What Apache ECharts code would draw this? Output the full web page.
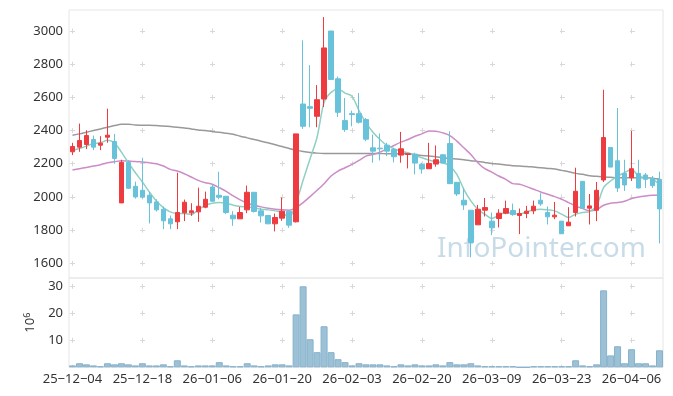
<!DOCTYPE html>
<html><head><meta charset="utf-8">
<script src="https://cdn.jsdelivr.net/npm/echarts@6/dist/echarts.min.js"></script>
<style>html,body{margin:0;padding:0;background:#fff}#c{width:673px;height:396px}</style>
</head><body><div id="c"></div>
<script>
const dates = ['25-12-04','25-12-05','25-12-08','25-12-09','25-12-10','25-12-11','25-12-12','25-12-15','25-12-16','25-12-17',
'25-12-18','25-12-19','25-12-22','25-12-23','25-12-24','25-12-26','25-12-29','25-12-30','26-01-02','26-01-05',
'26-01-06','26-01-07','26-01-08','26-01-09','26-01-12','26-01-13','26-01-14','26-01-15','26-01-16','26-01-19',
'26-01-20','26-01-21','26-01-22','26-01-23','26-01-26','26-01-27','26-01-28','26-01-29','26-01-30','26-02-02',
'26-02-03','26-02-04','26-02-05','26-02-06','26-02-09','26-02-10','26-02-11','26-02-12','26-02-13','26-02-19',
'26-02-20','26-02-23','26-02-24','26-02-25','26-02-26','26-02-27','26-03-03','26-03-04','26-03-05','26-03-06',
'26-03-09','26-03-10','26-03-11','26-03-12','26-03-13','26-03-16','26-03-17','26-03-18','26-03-19','26-03-20',
'26-03-23','26-03-24','26-03-25','26-03-26','26-03-27','26-03-30','26-03-31','26-04-01','26-04-02','26-04-03',
'26-04-06','26-04-07','26-04-08','26-04-09','26-04-10'];

const openV = [2272,2300,2316,2346,2312,2360,2334,1964,2208,2064,
 2040,2010,1970,1926,1868,1850,1904,1904,1910,1938,
 2060,2010,2004,1890,1868,1922,2028,1916,1888,1838,
 1872,1914,1850,2560,2544,2486,2590,3000,2712,2460,
 2502,2502,2466,2296,2294,2312,2286,2252,2256,2258,
 2196,2170,2198,2254,2322,2088,1980,1920,1832,1920,
 1854,1870,1902,1918,1888,1900,1916,1980,1906,1880,
 1854,1826,1906,2094,1932,1920,2102,2298,2218,2142,
 2116,2142,2132,2112,2106];
const closeV = [2304,2340,2370,2300,2324,2372,2232,2208,2052,2000,
 2000,1964,1922,1856,1838,1906,1968,1916,1944,1986,
 1974,1998,1906,1868,1906,2028,1912,1886,1838,1876,
 1914,1830,2380,2426,2534,2586,2898,2708,2510,2406,
 2496,2450,2348,2276,2290,2276,2242,2290,2260,2204,
 2168,2202,2224,2204,2080,2018,1952,1726,1926,1936,
 1814,1902,1930,1894,1900,1914,1944,1958,1880,1890,
 1778,1848,2034,1932,1946,2040,2358,2180,2054,2072,
 2170,2054,2106,2068,1928];
const lowV = [2252,2272,2288,2282,2282,2326,2200,1964,2048,1990,
 1990,1840,1912,1806,1806,1806,1854,1886,1850,1932,
 1970,1986,1896,1826,1868,1902,1906,1846,1836,1792,
 1856,1814,1846,2410,2420,2420,2542,2708,2482,2392,
 2426,2442,2336,2206,2220,2246,2208,2206,2172,2136,
 2140,2170,2182,2204,2080,2006,1922,1636,1832,1882,
 1770,1816,1896,1886,1776,1872,1896,1946,1834,1866,
 1778,1826,1882,1932,1834,1854,2090,2180,2030,2036,
 2096,2050,2054,2054,1720];
const highV = [2326,2442,2402,2370,2366,2532,2380,2224,2220,2092,
 2236,2030,1986,1942,1888,2146,1984,1962,2056,2032,
 2074,2152,2004,1914,1940,2068,2028,1934,1892,1900,
 1996,1914,2380,2944,2794,2674,3084,3000,2726,2596,
 2520,2626,2476,2376,2382,2326,2296,2392,2262,2266,
 2206,2326,2310,2258,2396,2088,2054,1920,1952,1994,
 1906,1926,1978,1960,1930,1946,1978,2022,1942,1970,
 1854,1938,2176,2094,2018,2090,2646,2298,2536,2224,
 2398,2224,2144,2126,2152];
const volume = [0.7,1.5,1.1,0.7,0.4,1.5,1.1,1.5,1.1,0.7,
 1.5,0.7,0.7,1.1,0.4,2.6,0.7,0.4,0.7,0.7,
 0.7,1.9,0.7,0.4,0.4,1.5,0.7,0.4,0.7,1.1,
 1.1,0.7,19.6,30.0,10.4,5.6,15.2,5.6,3.0,1.9,
 0.7,1.5,1.1,1.1,1.1,0.7,0.4,1.1,0.7,1.1,
 0.7,0.7,1.1,0.7,1.9,1.1,1.1,1.5,0.7,0.4,
 0.4,0.4,0.4,0.4,0,0,0.4,0.4,0.4,0.4,
 0.4,0.4,2.6,0.7,0.4,1.1,28.5,4.4,7.8,1.5,
 6.7,1.5,1.5,0.7,6.3];
const ma5 = [2280,2292,2306,2322,2326,2342,2326,2270,2206,2146,
 2090,2030,1976,1936,1910,1900,1900,1894,1922,1950,
 1962,1966,1962,1950,1942,1940,1934,1926,1922,1916,
 1906,1876,1966,2100,2230,2360,2570,2630,2650,2626,
 2606,2520,2446,2390,2346,2310,2290,2276,2266,2250,
 2236,2222,2212,2206,2186,2136,2046,1976,1926,1896,
 1870,1890,1906,1902,1896,1910,1922,1926,1922,1916,
 1896,1876,1896,1906,1912,1946,2056,2096,2126,2146,
 2166,2126,2116,2106,2076];
const ma20 = [2162,2170,2178,2186,2194,2206,2212,2218,2216,2214,
 2210,2206,2200,2186,2166,2156,2140,2120,2100,2086,
 2076,2056,2034,2006,1982,1962,1950,1940,1932,1926,
 1922,1920,1936,1966,2002,2040,2080,2126,2156,2176,
 2196,2220,2246,2256,2270,2290,2310,2330,2346,2366,
 2380,2398,2396,2386,2370,2336,2296,2256,2206,2170,
 2150,2126,2106,2080,2076,2062,2046,2030,2016,2002,
 1986,1966,1946,1930,1916,1922,1950,1962,1966,1974,
 1990,2000,2006,2010,2012];
const maLong = [2372,2380,2390,2400,2410,2420,2430,2438,2438,2434,
 2432,2432,2430,2428,2424,2420,2416,2410,2404,2400,
 2394,2390,2384,2378,2366,2356,2346,2336,2326,2314,
 2304,2292,2282,2274,2268,2264,2262,2262,2262,2262,
 2262,2262,2262,2262,2262,2260,2260,2260,2260,2254,
 2250,2246,2242,2236,2232,2228,2224,2218,2214,2208,
 2202,2198,2192,2188,2186,2184,2180,2176,2172,2168,
 2160,2152,2142,2136,2128,2124,2120,2118,2116,2116,
 2116,2116,2116,2112,2108];
const priceTicks = [1600,1800,2000,2200,2400,2600,2800,3000];
const volTicks = [10,20,30];

const FONT = 'Noto Sans';
const crossColor = '#d8d8d8';
const chart = echarts.init(document.getElementById('c'), null, {renderer:'canvas'});
const candleData = dates.map((d,i)=>[openV[i], closeV[i], lowV[i], highV[i]]);
const plain = v => String(v);
const option = {
  animation: false,
  backgroundColor: '#fff',
  textStyle: {fontFamily: FONT},
  graphic: [{
    type: 'text', left: 437, top: 235, z: 1, silent: true,
    style: {text: 'InfoPointer.com', fontSize: 28, fontFamily: FONT, fill: 'rgba(155,192,213,0.55)'}
  }],
  grid: [
    {left: 69, right: 10, top: 10, height: 268, show: true, borderColor: '#e6e6e6', borderWidth: 1},
    {left: 69, right: 10, top: 278, height: 89.3, show: true, borderColor: '#e6e6e6', borderWidth: 1}
  ],
  xAxis: [
    {type: 'category', gridIndex: 0, data: dates, boundaryGap: true,
     axisLine: {show: false}, axisTick: {show: false}, axisLabel: {show: false},
     splitLine: {show: true, interval: 9, alignWithLabel: true,
       lineStyle: {color: crossColor, width: 1, type: [5, 28.19], dashOffset: 14.69}}},
    {type: 'category', gridIndex: 1, data: dates, boundaryGap: true,
     axisLine: {show: false}, axisTick: {show: false},
     axisLabel: {interval: 9, color: '#333', fontSize: 13, margin: 5, fontFamily: FONT,
       formatter: v => v.replace(/-/g, '\u2212')},
     splitLine: {show: true, interval: 9, alignWithLabel: true,
       lineStyle: {color: crossColor, width: 1, type: [5, 22], dashOffset: 21.2}}}
  ],
  yAxis: [
    {type: 'value', gridIndex: 0, min: 1511.4, max: 3126.6, scale: true,
     axisLine: {show: false}, axisTick: {show: false, customValues: priceTicks},
     axisLabel: {customValues: priceTicks, formatter: plain, color: '#333', fontSize: 13, margin: 6, fontFamily: FONT},
     splitLine: {show: true, lineStyle: {color: crossColor, width: 1, type: [5, 65], dashOffset: 69}}},
    {type: 'value', gridIndex: 1, min: 0, max: 33.07,
     axisLine: {show: false}, axisTick: {show: false, customValues: volTicks},
     axisLabel: {customValues: volTicks, formatter: plain, color: '#333', fontSize: 13, margin: 6, fontFamily: FONT},
     splitLine: {show: true, lineStyle: {color: crossColor, width: 1, type: [5, 65], dashOffset: 69}},
     name: '{a|10}{b|6}', nameLocation: 'middle', nameRotate: 90, nameGap: 29,
     nameTextStyle: {color: '#333', fontFamily: FONT,
       rich: {a: {fontSize: 13, lineHeight: 16, fontFamily: FONT, color: '#333'},
              b: {fontSize: 9, lineHeight: 9, verticalAlign: 'top', fontFamily: FONT, color: '#333'}}}}
  ],
  series: [
    {name: 'MA120', type: 'line', xAxisIndex: 0, yAxisIndex: 0, data: maLong, symbol: 'none', smooth: 0.3,
     lineStyle: {color: '#999999', width: 1.5}, z: 2},
    {name: 'MA20', type: 'line', xAxisIndex: 0, yAxisIndex: 0, data: ma20, symbol: 'none', smooth: 0.3,
     lineStyle: {color: '#cc8cc6', width: 1.5}, z: 2},
    {name: 'MA5', type: 'line', xAxisIndex: 0, yAxisIndex: 0, data: ma5, symbol: 'none', smooth: 0.3,
     lineStyle: {color: '#8fd0c3', width: 1.5}, z: 2},
    {name: 'price', type: 'candlestick', xAxisIndex: 0, yAxisIndex: 0, data: candleData, barWidth: 5, z: 3,
     itemStyle: {color: '#ee3b3f', color0: '#68c2da', borderColor: '#ee3b3f', borderColor0: '#68c2da', borderWidth: 1}},
    {name: 'volume', type: 'bar', xAxisIndex: 1, yAxisIndex: 1, data: volume, barCategoryGap: '0%',
     itemStyle: {color: '#9cc1d4', borderColor: '#86b1cd', borderWidth: 1}}
  ]
};
chart.setOption(option);
</script>
</body></html>
